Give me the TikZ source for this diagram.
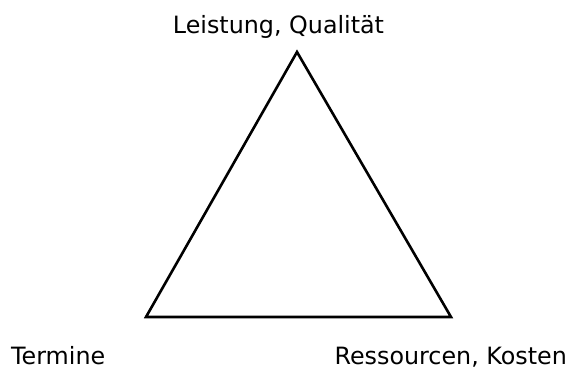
\documentclass[tikz,border=0pt]{standalone}
\usepackage{fontspec}
\setmainfont{DejaVu Sans}
\begin{document}
\begin{tikzpicture}[x=1pt,y=1pt,
  lbl/.style={inner sep=0pt, font=\fontsize{23.8}{28}\selectfont},
  edge/.style={line width=2.6pt, line join=miter}]
\useasboundingbox (0,0) rectangle (571,371);
\coordinate (T) at (297,319);
\coordinate (L) at (146,54);
\coordinate (R) at (451,54);
\draw[edge] (T) -- (L) -- (R) -- cycle;
\node[lbl, anchor=base] (top) at (278.5,337) {Leistung, Qualität};
\node[lbl, anchor=base west] (left) at (11,6) {Termine};
\node[lbl, anchor=base east] (right) at (567,6) {Ressourcen, Kosten};
\end{tikzpicture}
\end{document}
